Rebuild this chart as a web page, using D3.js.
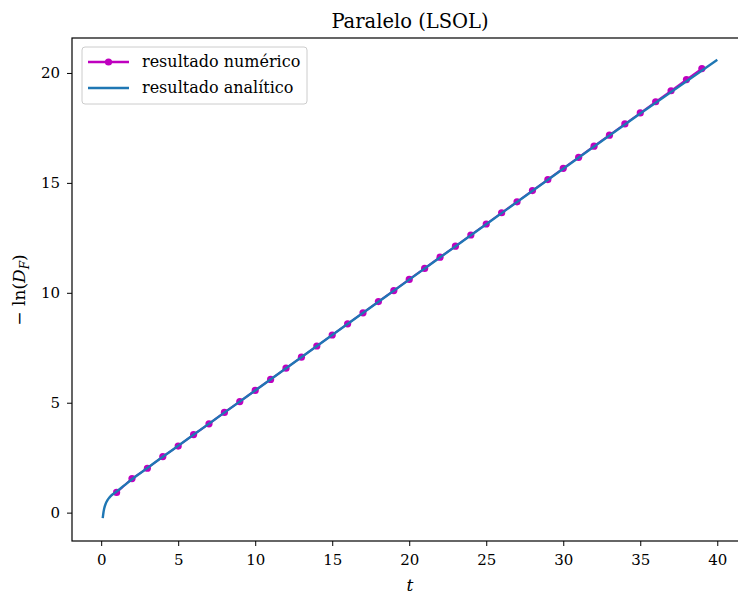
<!DOCTYPE html>
<html><head><meta charset="utf-8">
<script src="https://cdn.jsdelivr.net/npm/d3@7"></script>
<style>body{margin:0;background:#fff}svg{display:block}text{font-family:"DejaVu Serif","Liberation Serif",serif}</style>
</head><body><svg id="c" width="738" height="597"></svg>
<script>
const numT = [1,2,3,4,5,6,7,8,9,10,11,12,13,14,15,16,17,18,19,20,21,22,23,24,25,26,27,28,29,30,31,32,33,34,35,36,37,38,39];
const numY = [0.92,1.55,2.02,2.55,3.03,3.55,4.04,4.56,5.05,5.56,6.06,6.57,7.07,7.58,8.08,8.59,9.09,9.60,10.10,10.61,11.11,11.62,12.12,12.63,13.13,13.64,14.14,14.65,15.15,15.66,16.16,16.67,17.17,17.68,18.18,18.69,19.19,19.70,20.20];
const anaT = [0.1,0.15,0.2,0.3,0.4,0.5,0.6,0.8,1,1.5,2,3,4,5,10,15,20,25,30,35,40];
const anaY = [-0.25,0.02,0.2,0.42,0.56,0.66,0.74,0.86,0.96,1.24,1.52,2.03,2.54,3.04,5.56,8.08,10.6,13.12,15.64,18.16,20.6];
const xTicks = [0,5,10,15,20,25,30,35,40];
const yTicks = [0,5,10,15,20];
const title = "Paralelo (LSOL)";
const legendLabels = ["resultado numérico","resultado analítico"];

const svg = d3.select("#c");
const L=72, R=748, T=38, B=541;
const x = d3.scaleLinear().domain([-1.895,41.995]).range([L,R]);
const y = d3.scaleLinear().domain([-1.29,21.59]).range([B,T]);
const mag = "#bf00bf", blue = "#1f77b4";

const xa = svg.append("g").attr("transform",`translate(0,${B})`)
  .call(d3.axisBottom(x).tickValues(xTicks).tickSize(5).tickPadding(8).tickFormat(d3.format("d")));
const ya = svg.append("g").attr("transform",`translate(${L},0)`)
  .call(d3.axisLeft(y).tickValues(yTicks).tickSize(5).tickPadding(7).tickFormat(d3.format("d")));
[xa,ya].forEach(a=>{a.select(".domain").remove();a.selectAll("line").attr("stroke","#000").attr("stroke-width",1);a.selectAll("text").attr("font-size",15).attr("fill","#000");});

const line = d3.line().x((d,i)=>x(d[0])).y(d=>y(d[1]));
const num = numT.map((t,i)=>[t,numY[i]]);
const ana = anaT.map((t,i)=>[t,anaY[i]]);
svg.append("path").datum(num).attr("d",line).attr("fill","none").attr("stroke",mag).attr("stroke-width",2);
svg.selectAll("circle.n").data(num).enter().append("circle").attr("class","n")
  .attr("cx",d=>x(d[0])).attr("cy",d=>y(d[1])).attr("r",3.6).attr("fill",mag);
svg.append("path").datum(ana).attr("d",line.curve(d3.curveMonotoneX)).attr("fill","none").attr("stroke",blue).attr("stroke-width",2.4);

svg.append("rect").attr("x",L).attr("y",T).attr("width",R-L).attr("height",B-T).attr("fill","none").attr("stroke","#000").attr("stroke-width",1.2);

svg.append("text").attr("x",(L+R)/2).attr("y",28).attr("text-anchor","middle").attr("font-size",19.5).text(title);
svg.append("text").attr("x",(L+R)/2).attr("y",591).attr("text-anchor","middle").attr("font-size",17).attr("font-style","italic").text("t");
const yl = svg.append("text").attr("transform","translate(25,290) rotate(-90)").attr("text-anchor","middle").attr("font-size",17);
yl.append("tspan").text("− ln(");
yl.append("tspan").attr("font-style","italic").text("D");
yl.append("tspan").attr("font-style","italic").attr("font-size",12).attr("dy",4).text("F");
yl.append("tspan").attr("dy",-4).text(")");

const lg = svg.append("g");
lg.append("rect").attr("x",82).attr("y",47).attr("width",225).attr("height",57).attr("rx",3).attr("fill","#fff").attr("fill-opacity",0.8).attr("stroke","#ccc");
[[mag,true],[blue,false]].forEach((c,i)=>{
  const yy = 62 + i*26;
  lg.append("line").attr("x1",88).attr("x2",129).attr("y1",yy).attr("y2",yy).attr("stroke",c[0]).attr("stroke-width",2.4);
  if(c[1]) lg.append("circle").attr("cx",108.5).attr("cy",yy).attr("r",3.6).attr("fill",c[0]);
  lg.append("text").attr("x",142).attr("y",yy+5).attr("font-size",16).text(legendLabels[i]);
});
</script></body></html>
